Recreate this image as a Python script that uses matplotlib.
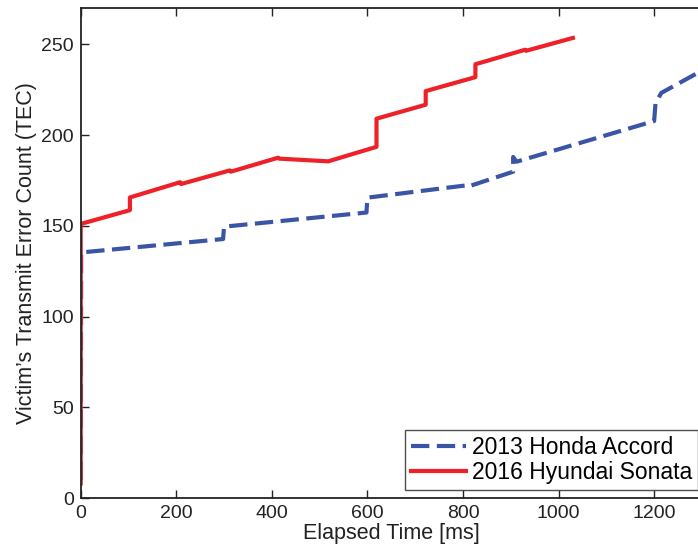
import matplotlib
matplotlib.use("Agg")
import matplotlib.pyplot as plt

plt.rcParams['font.family'] = ['Liberation Sans', 'DejaVu Sans']

# Transmit error count over time, per vehicle
honda_t = [0, 1, 298, 300, 598, 600, 811, 813, 905, 905, 912, 1200, 1203, 1215, 1300]
honda_tec = [10, 135.3, 142.7, 149.5, 157.3, 165.5, 172.4, 171.8, 179.8, 187.9, 185.3,
             207.7, 217.7, 223.2, 235.5]

sonata_t = [0, 0, 103, 103, 208, 210, 312, 314, 413, 415, 518, 619, 619,
            722, 722, 826, 826, 930, 932, 1030]
sonata_tec = [8, 151, 158.6, 165.6, 174, 173, 180.5, 179.8, 187.5, 187, 185.5, 193.5, 209,
              216.7, 224.2, 231.9, 239, 247, 246.4, 253.5]

series_labels = ['2013 Honda Accord', '2016 Hyundai Sonata']
x_ticks = [0, 200, 400, 600, 800, 1000, 1200]
y_ticks = [0, 50, 100, 150, 200, 250]

fig = plt.figure(figsize=(6.98, 5.55), dpi=100)
ax = fig.add_axes([0.1156, 0.1027, 0.89, 0.8829])

ax.plot(honda_t, honda_tec, color='#3A55A6', lw=3.0, dashes=(4.4, 1.8),
        label=series_labels[0], solid_joinstyle='round')
ax.plot(sonata_t, sonata_tec, color='#EE2129', lw=3.0, label=series_labels[1],
        solid_joinstyle='round')

ax.set_xlim(0, 1300)
ax.set_ylim(0, 270)
ax.set_xticks(x_ticks)
ax.set_yticks(y_ticks)
ax.tick_params(direction='in', length=6, width=1, labelsize=14, top=True, right=False,
               colors='#222222', pad=5)
for s in ax.spines.values():
    s.set_linewidth(1.3)
    s.set_color('#222222')

ax.set_xlabel('Elapsed Time [ms]', fontsize=15.5, color='#222222', labelpad=1)
ax.set_ylabel('Victim\u2019s Transmit Error Count (TEC)', fontsize=15.5, color='#222222',
              labelpad=3)

leg = ax.legend(loc='lower right', bbox_to_anchor=(0.9935, 0.016), fontsize=16.5,
                frameon=True, fancybox=False, borderpad=0.25, handlelength=2.4,
                handletextpad=0.25, labelspacing=0.12, borderaxespad=0)
leg.get_frame().set_edgecolor('#222222')
leg.get_frame().set_linewidth(1.0)

fig.savefig('out.png', dpi=100)
